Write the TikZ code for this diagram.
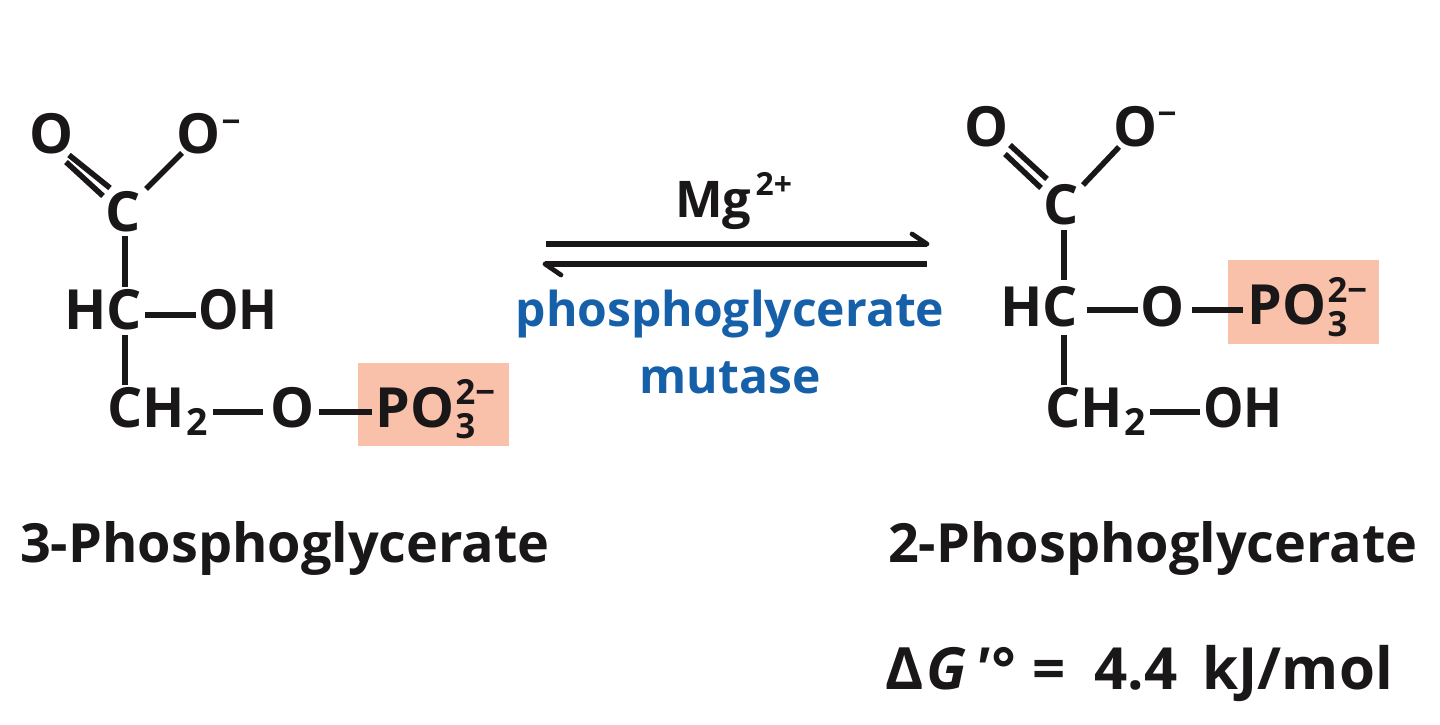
\documentclass[tikz,border=0pt]{standalone}
\usepackage{fontspec}
\setmainfont{Open Sans}
\definecolor{salmon}{HTML}{F9C1A9}
\definecolor{enz}{HTML}{1560A8}
\definecolor{ink}{HTML}{1A1718}
\tikzset{
 px/.style={x=0.01in,y=-0.01in},
 atom/.style={inner sep=0pt,text=ink,font=\fontsize{40}{40}\selectfont\bfseries,anchor=base},
 atomw/.style={atom,anchor=base west},
 bond/.style={draw=ink,line width=4pt},
 barb/.style={draw=ink,line width=3.4pt,line cap=round},
 label/.style={inner sep=0pt,text=ink,font=\fontsize{39}{39}\selectfont\bfseries,anchor=base},
 blue/.style={inner sep=0pt,text=enz,font=\fontsize{34.7}{34.7}\selectfont\bfseries,anchor=base},
 patch/.style={fill=salmon,draw=none}
}
\newcommand{\smallfs}{\fontsize{25}{25}\selectfont}
\newcommand{\pothree}{PO\hspace{1pt}\makebox[0pt][l]{\raisebox{-8pt}{\smallfs 3}}\raisebox{16.5pt}{\smallfs 2−}}
\newcommand{\chtwo}{CH\hspace{1pt}\raisebox{-6pt}{\fontsize{27}{27}\selectfont 2}}
\newcommand{\ohtext}{\scalebox{0.92}[1]{OH}}
\begin{document}
\begin{tikzpicture}[px]
\useasboundingbox (0,0) rectangle (1440,725);
\fill[patch] (358,363) rectangle (509,446);
\fill[patch] (1228,260) rectangle (1379,344);
% left molecule
\node[atom] (lO) at (52,154) {O};
\node[atom] (lOm) at (199,154) {O};
\node[atom] (lm) at (231,134) {\fontsize{24}{24}\selectfont −};
\node[atom] (lC) at (123,232) {C};
\node[atomw] (lHC) at (64,330) {HC};
\node[atom] (lOH) at (238,330) {\ohtext};
\node[atomw] (lCH) at (107,427) {\chtwo};
\node[atom] (lO2) at (293,427) {O};
\node[atomw] (lP) at (375,427) {\pothree};
\draw[bond] (69,155) -- (110,188);
\draw[bond] (66,162) -- (103,196);
\draw[bond] (182,153) -- (146,189);
\draw[bond] (125,236) -- (125,287);
\draw[bond] (145,315) -- (196,315);
\draw[bond] (125,335) -- (125,385);
\draw[bond] (213,412) -- (263,412);
\draw[bond] (319,412) -- (372,412);
% right molecule
\node[atom] (rO) at (987,147) {O};
\node[atom] (rOm) at (1136,147) {O};
\node[atom] (rm) at (1167,126) {\fontsize{24}{24}\selectfont −};
\node[atom] (rC) at (1061,225) {C};
\node[atomw] (rHC) at (1000,327) {HC};
\node[atom] (rO2) at (1163,327) {O};
\node[atomw] (rP) at (1247,325) {\pothree};
\node[atomw] (rCH) at (1045,427) {\chtwo};
\node[atom] (rOH) at (1243,427) {\ohtext};
\draw[bond] (1010,145) -- (1047,179);
\draw[bond] (1005,154) -- (1041,188);
\draw[bond] (1119,147) -- (1083,185);
\draw[bond] (1064,230) -- (1064,280);
\draw[bond] (1087,310) -- (1138,310);
\draw[bond] (1192,310) -- (1243,310);
\draw[bond] (1064,335) -- (1064,385);
\draw[bond] (1150,412) -- (1200,412);
% arrows
\coordinate (a1) at (546,244); \coordinate (a2) at (927,244);
\coordinate (a3) at (912,234);
\coordinate (b1) at (927,264); \coordinate (b2) at (545,264);
\coordinate (b3) at (561,275);
\draw[bond] (a1) -- (a2);
\draw[barb] (a3) -- (a2);
\draw[bond] (b1) -- (b2);
\draw[barb] (b3) -- (b2);
\node[atomw,font=\fontsize{36.5}{36.5}\selectfont\bfseries] (mg) at (675,218) {Mg\hspace{3pt}\raisebox{16.5pt}{\fontsize{23}{23}\selectfont 2+}};
\node[blue] (e1) at (730,327) {phosphoglycerate};
\node[blue] (e2) at (730,393) {mutase};
\node[label] (n1) at (285,562) {3-Phosphoglycerate};
\node[label] (n2) at (1153,562) {2-Phosphoglycerate};
\node[atomw,font=\fontsize{42}{42}\selectfont\bfseries] (dg) at (885,689) {Δ\hspace{2pt}\textit{G}\hspace{6pt}\textit{′°}\hspace{13pt}=\hspace{21pt}4.4\hspace{18pt}kJ/mol};
\end{tikzpicture}
\end{document}
